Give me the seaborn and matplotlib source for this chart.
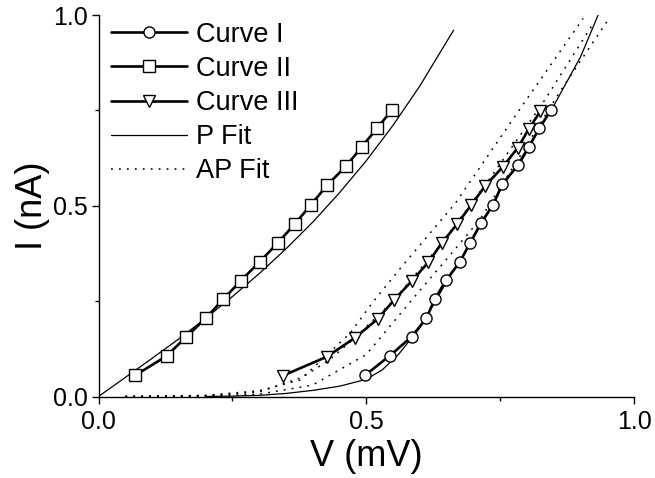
import matplotlib
matplotlib.use("Agg")
import matplotlib.pyplot as plt
import matplotlib.ticker as mticker
import seaborn as sns

# -----------------------------------------------------------------------------
# DATA
# -----------------------------------------------------------------------------

v_curve1 = [0.498, 0.544, 0.585, 0.612, 0.628, 0.649, 0.675, 0.694, 0.714, 0.737,
            0.754, 0.784, 0.804, 0.823, 0.845]
i_curve1 = [0.056, 0.107, 0.157, 0.205, 0.255, 0.305, 0.353, 0.403, 0.454, 0.503,
            0.557, 0.607, 0.655, 0.703, 0.751]

v_curve2 = [0.069, 0.127, 0.163, 0.200, 0.233, 0.266, 0.301, 0.335, 0.367, 0.397,
            0.427, 0.463, 0.492, 0.520, 0.548]
i_curve2 = [0.056, 0.106, 0.155, 0.205, 0.255, 0.304, 0.353, 0.403, 0.453, 0.503,
            0.554, 0.605, 0.655, 0.703, 0.751]

v_curve3 = [0.345, 0.426, 0.479, 0.521, 0.552, 0.585, 0.616, 0.641, 0.669, 0.696,
            0.722, 0.755, 0.783, 0.803, 0.825]
i_curve3 = [0.055, 0.104, 0.154, 0.203, 0.253, 0.303, 0.352, 0.402, 0.451, 0.502,
            0.552, 0.602, 0.652, 0.700, 0.748]

# P fits (solid thin lines)
v_pfit2 = [0.0, 0.05, 0.10, 0.15, 0.20, 0.25, 0.30, 0.35, 0.40, 0.45, 0.50, 0.55, 0.60, 0.663]
i_pfit2 = [0.0, 0.050, 0.100, 0.151, 0.205, 0.262, 0.322, 0.387, 0.457, 0.534, 0.618,
           0.711, 0.814, 0.960]

v_pfit1 = [0.20, 0.25, 0.30, 0.35, 0.40, 0.45, 0.50, 0.53, 0.56, 0.60, 0.65, 0.70,
           0.75, 0.80, 0.85, 0.90, 0.933]
i_pfit1 = [0.0, 0.001, 0.003, 0.008, 0.016, 0.027, 0.045, 0.070, 0.110, 0.180, 0.300,
           0.415, 0.540, 0.648, 0.762, 0.890, 1.0]

# AP fits (dotted lines)
v_apfit_a = [0.05, 0.20, 0.30, 0.376, 0.47, 0.511, 0.563, 0.666, 0.79, 0.905]
i_apfit_a = [0.0, 0.003, 0.015, 0.043, 0.166, 0.245, 0.335, 0.506, 0.760, 0.991]

v_apfit_b = [0.05, 0.20, 0.30, 0.38, 0.43, 0.479, 0.552, 0.641, 0.73, 0.83, 0.924]
i_apfit_b = [0.0, 0.002, 0.012, 0.050, 0.095, 0.154, 0.253, 0.402, 0.570, 0.770, 0.978]

v_apfit_c = [0.05, 0.20, 0.30, 0.40, 0.50, 0.585, 0.65, 0.712, 0.787, 0.862, 0.949]
i_apfit_c = [0.0, 0.001, 0.006, 0.030, 0.110, 0.253, 0.360, 0.463, 0.630, 0.800, 0.982]

# -----------------------------------------------------------------------------
# STYLE
# -----------------------------------------------------------------------------

sns.set_theme(style="ticks")
plt.rcParams["font.family"] = ["Liberation Sans", "DejaVu Sans"]
plt.rcParams["axes.linewidth"] = 1.0
plt.rcParams["text.color"] = "black"
plt.rcParams["axes.labelcolor"] = "black"

fig = plt.figure(figsize=(6.55, 4.78), dpi=100)
ax = fig.add_axes([0.1504, 0.1705, 0.8176, 0.7981])

FIT_LW = 0.9
DATA_LW = 1.9
DOTS = (0, (1.2, 4))

# fits first so the data markers sit on top
sns.lineplot(x=v_pfit2, y=i_pfit2, ax=ax, color="black", lw=FIT_LW, sort=False,
             estimator=None, label="P Fit")
sns.lineplot(x=v_pfit1, y=i_pfit1, ax=ax, color="black", lw=FIT_LW, sort=False,
             estimator=None)
for i, (vv, ii) in enumerate([(v_apfit_a, i_apfit_a), (v_apfit_b, i_apfit_b),
                              (v_apfit_c, i_apfit_c)]):
    sns.lineplot(x=vv, y=ii, ax=ax, color="black", lw=1.1, linestyle=DOTS, sort=False,
                 estimator=None, label="AP Fit" if i == 0 else None)

marker_kw = dict(markerfacecolor="white", markeredgecolor="black", markeredgewidth=1.0)
sns.lineplot(x=v_curve1, y=i_curve1, ax=ax, color="black", lw=DATA_LW, marker="o",
             markersize=8, sort=False, estimator=None, label="Curve I", **marker_kw)
sns.lineplot(x=v_curve2, y=i_curve2, ax=ax, color="black", lw=DATA_LW, marker="s",
             markersize=8, sort=False, estimator=None, label="Curve II", **marker_kw)
sns.lineplot(x=v_curve3, y=i_curve3, ax=ax, color="black", lw=DATA_LW, marker="v",
             markersize=9, sort=False, estimator=None, label="Curve III", **marker_kw)

# legend in the order of the reference
handles, labels = ax.get_legend_handles_labels()
order = ["Curve I", "Curve II", "Curve III", "P Fit", "AP Fit"]
hmap = dict(zip(labels, handles))
leg = ax.legend([hmap[k] for k in order], order, loc="upper left", frameon=False,
                fontsize=19.5, handlelength=2.8, handletextpad=0.35, labelspacing=0.3,
                borderaxespad=0.0, borderpad=0.25, numpoints=1,
                bbox_to_anchor=(0.011, 1.0))
for t in leg.get_texts():
    t.set_color("black")

ax.set_xlim(0, 1.0)
ax.set_ylim(0, 1.0)
ax.xaxis.set_major_locator(mticker.MultipleLocator(0.5))
ax.xaxis.set_minor_locator(mticker.MultipleLocator(0.25))
ax.yaxis.set_major_locator(mticker.MultipleLocator(0.5))
ax.yaxis.set_minor_locator(mticker.MultipleLocator(0.25))
ax.xaxis.set_major_formatter(mticker.FormatStrFormatter("%.1f"))
ax.yaxis.set_major_formatter(mticker.FormatStrFormatter("%.1f"))
ax.tick_params(which="major", length=5, width=1.0, labelsize=18, pad=3,
               color="black", labelcolor="black", direction="out")
ax.tick_params(which="minor", length=3, width=1.0, color="black", direction="out")
ax.tick_params(axis="x", which="major", pad=5)

ax.set_xlabel("V (mV)", fontsize=26, labelpad=3, color="black")
ax.set_ylabel("I (nA)", fontsize=26, labelpad=2, color="black")

sns.despine(ax=ax)
for s in ["left", "bottom"]:
    ax.spines[s].set_color("black")
ax.grid(False)

fig.savefig("out.png", dpi=100)
plt.close(fig)
